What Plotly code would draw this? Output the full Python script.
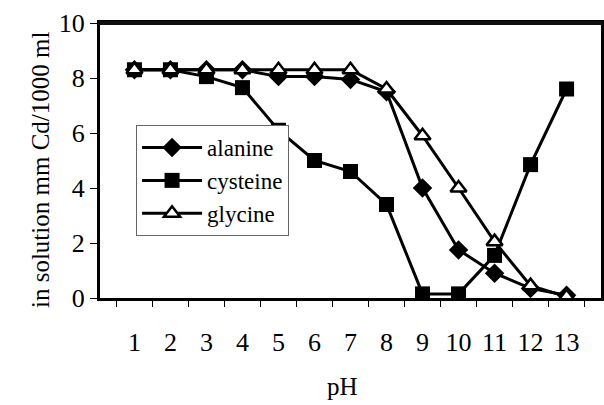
import plotly.graph_objects as go

ph = [str(i) for i in range(1, 14)]
alanine = [8.3, 8.3, 8.3, 8.3, 8.05, 8.05, 7.95, 7.5, 4.0, 1.75, 0.9, 0.35, 0.1]
cysteine = [8.3, 8.3, 8.05, 7.65, 6.1, 5.0, 4.6, 3.4, 0.15, 0.15, 1.55, 4.85, 7.6]
glycine = [8.3, 8.3, 8.3, 8.3, 8.3, 8.3, 8.3, 7.6, 5.9, 4.0, 2.05, 0.45, 0.05]

font = "Liberation Serif"
fig = go.Figure()
fig.add_trace(go.Scatter(x=ph, y=alanine, name="alanine", mode="lines+markers",
                         line=dict(color="black", width=3),
                         marker=dict(symbol="diamond", size=15, color="black")))
fig.add_trace(go.Scatter(x=ph, y=cysteine, name="cysteine", mode="lines+markers",
                         line=dict(color="black", width=3),
                         marker=dict(symbol="square", size=15, color="black")))
fig.add_trace(go.Scatter(x=ph, y=glycine, name="glycine", mode="lines+markers",
                         line=dict(color="black", width=3),
                         marker=dict(symbol="triangle-up", size=14, color="white",
                                     line=dict(color="black", width=2.5))))

fig.update_layout(
    width=604, height=405,
    margin=dict(l=100, r=3, t=23, b=107, autoexpand=False),
    paper_bgcolor="white", plot_bgcolor="white",
    font=dict(family=font, size=26, color="black"),
    showlegend=True,
    legend=dict(x=0.072, y=0.629, xanchor="left", yanchor="top",
                bgcolor="white", bordercolor="#666", borderwidth=1,
                font=dict(family=font, size=23), itemwidth=60, traceorder="normal"),
    xaxis=dict(type="category", showline=True, linecolor="black", linewidth=3,
               mirror=True, ticks="outside", tickson="boundaries", ticklen=6,
               tickcolor="black", showgrid=False, zeroline=False, automargin=False,
               ticklabelstandoff=19, tickfont=dict(family=font, size=26)),
    yaxis=dict(range=[0, 10], dtick=2, showline=True, linecolor="black", linewidth=3,
               mirror=True, ticks="outside", ticklen=7, tickcolor="black",
               showgrid=False, zeroline=False, automargin=False,
               tickfont=dict(family=font, size=26)),
    shapes=[dict(type="line", xref="paper", yref="paper", x0=-0.003, y0=1, x1=1.003, y1=1,
                 line=dict(color="#101010", width=4), layer="above")],
    annotations=[
        dict(text="in solution mm Cd/1000 ml", xref="paper", yref="paper",
             x=-0.12, y=0.465, xanchor="center", yanchor="middle", textangle=-90,
             showarrow=False, font=dict(family=font, size=25)),
        dict(text="pH", xref="paper", yref="paper", x=0.485, y=-0.32,
             xanchor="center", yanchor="middle", showarrow=False,
             font=dict(family=font, size=25)),
    ],
)

fig.write_html("out.html", config={"displayModeBar": False},
               post_script="document.body.style.margin='0';document.body.style.overflow='hidden';")
